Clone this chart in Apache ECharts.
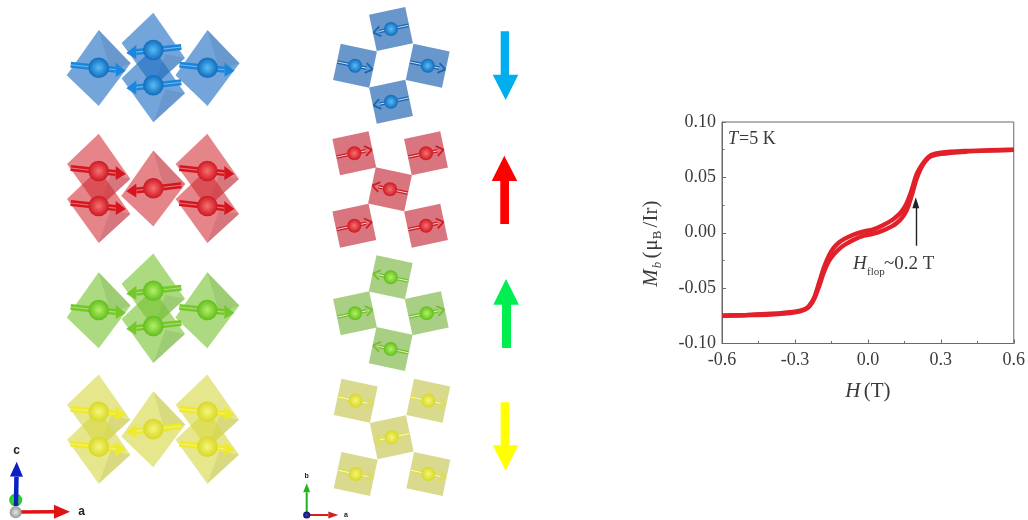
<!DOCTYPE html>
<html><head><meta charset="utf-8">
<script src="https://cdn.jsdelivr.net/npm/echarts@6/dist/echarts.min.js"></script>
<style>html,body{margin:0;padding:0;background:#fff}#c{width:1028px;height:520px;filter:blur(0.45px)}</style>
</head><body><div id="c"></div>
<script>
// ---- M-H loop data (H in tesla, M in muB/Ir)
const fieldUp = [-0.6,-0.5,-0.4,-0.3,-0.26,-0.24,-0.22,-0.2,-0.18,-0.16,-0.14,-0.12,-0.1,-0.06,-0.02,0.02,0.06,0.1,0.12,0.14,0.16,0.18,0.2,0.22,0.24,0.26,0.3,0.4,0.5,0.6];
const momentUpper = [-0.0748,-0.0742,-0.0732,-0.0712,-0.069,-0.0655,-0.058,-0.0445,-0.031,-0.0205,-0.0135,-0.009,-0.006,-0.0018,0.001,0.0028,0.0065,0.0115,0.015,0.0195,0.027,0.0385,0.0525,0.0605,0.0665,0.0703,0.0723,0.0738,0.0745,0.075];
const momentLower = [-0.075,-0.0745,-0.0738,-0.0718,-0.0695,-0.0665,-0.0595,-0.048,-0.035,-0.0255,-0.0195,-0.015,-0.0115,-0.0065,-0.0028,-0.001,0.0018,0.006,0.009,0.0135,0.0205,0.0335,0.0485,0.059,0.0655,0.069,0.0712,0.0732,0.0742,0.0748];
const xTicks = {min:-0.6,max:0.6,step:0.3};
const yTicks = {min:-0.1,max:0.1,step:0.05};
const arrowH = [0.197,0.197];
const arrowM = [-0.0117,0.0271]; // flop-field arrow tail and tip

// ---- illustration palettes and layout
const palettes = {
  blue:  {oct:'rgba(30,110,195,0.62)', facet:'rgba(30,70,130,0.13)', sq:'#6a97cb', lo:'#0862b4', arrow:'#1a86dc', thin:'#1466b4', core:'#58bcf8'},
  red:   {oct:'rgba(210,40,50,0.57)',  facet:'rgba(110,20,30,0.12)', sq:'#d9757e', lo:'#c80f1a', arrow:'#d6151f', thin:'#cc1c24', core:'#f87070'},
  green: {oct:'rgba(120,195,50,0.62)', facet:'rgba(60,110,30,0.12)', sq:'#a9cf85', lo:'#58b814', arrow:'#74c82a', thin:'#74bf2c', core:'#b4f068'},
  yellow:{oct:'rgba(215,215,70,0.62)', facet:'rgba(120,120,30,0.12)', sq:'#d9da8e', lo:'#d4d41e', arrow:'#eeea2c', thin:'#dfde50', core:'#f6f67a'}
};
// [x, y, shape (A/B), spin (+1 right, -1 left)]
const octBlue  = [[98.7,67.7,'A',1],[153.3,50,'B',-1],[153.3,85.3,'B',-1],[207.5,67.7,'A',1]];
const octRed   = [[98.7,171,'B',1],[98.7,206,'B',1],[153.3,188.3,'A',-1],[207.3,171,'B',1],[207.3,206,'B',1]];
const octGreen = [[98.7,310,'A',1],[153.3,290.7,'B',-1],[153.3,326,'B',-1],[207.3,310,'A',1]];
const octYellow= [[98.7,411.7,'B',1],[98.7,446.7,'B',1],[153.3,429,'A',-1],[207.3,411.7,'B',1],[207.3,446.7,'B',1]];
// [x, y, rotation degrees, spin]
const sqBlue  = [[391,29,-12,-1],[355,65.7,12,1],[427.7,65.7,12,1],[391,101.7,-12,-1]];
const sqRed   = [[354.3,153.3,-12,1],[426,153.3,-12,1],[390,189.3,12,-1],[354.3,225.7,-12,1],[426,225.7,-12,1]];
const sqGreen = [[390.7,277.3,12,-1],[355,313.3,-12,1],[426.7,313.3,-12,1],[390.7,349,12,-1]];
const sqYellow= [[355.7,400.7,12,1],[428.3,400.7,12,1],[391.7,437.3,-12,-1],[355.7,474,12,1],[428.3,474,12,1]];

const shapes = {
  A:{v:[[0,-37.7],[32,-4.4],[0,38.3],[-32,7.6]], f:[[0,-37.7],[32,-4.4],[12,3]]},
  B:{v:[[0,-37.3],[31.7,8],[0,37],[-31.7,-7]],   f:[[0,37],[31.7,8],[12,4]]}
};
const els = [];
function poly(points, fill, z){ els.push({type:'polygon', z:z||1, shape:{points}, style:{fill}}); }
function line(a,b,stroke,w,z){ els.push({type:'line', z:z||1, shape:{x1:a[0],y1:a[1],x2:b[0],y2:b[1]}, style:{stroke,lineWidth:w}}); }
function ball(x,y,r,hi,lo,z){
  els.push({type:'circle', z:z||1, shape:{cx:x,cy:y,r},
    style:{fill:new echarts.graphic.RadialGradient(0.5,0.5,0.55,[{offset:0,color:hi},{offset:1,color:lo}])}});
}
function octLayer(list,p){
  list.forEach(o=>{
    const s=shapes[o[2]];
    poly(s.v.map(q=>[o[0]+q[0],o[1]+q[1]]),p.oct,2);
    poly(s.f.map(q=>[o[0]+q[0],o[1]+q[1]]),p.facet,2);
  });
  list.forEach(o=>{
    const d=o[3], x=o[0], y=o[1], t=3;
    const tail=[x-d*28,y-t], neck=[x+d*17,y+t*0.7], tip=[x+d*27,y+t];
    line(tail,neck,p.arrow,6,3);
    line(tail,neck,'rgba(255,255,255,0.4)',1.1,3);
    poly([[neck[0],neck[1]-7],tip,[neck[0],neck[1]+7]],p.arrow,3);
    ball(x,y,10.3,p.core,p.lo,4);
  });
}
function sqLayer(list,p){
  const h=18.5;
  list.forEach(o=>{
    const a=o[2]*Math.PI/180, c=Math.cos(a), s=Math.sin(a);
    const rot=(u,v)=>[o[0]+u*c-v*s,o[1]+u*s+v*c];
    poly([rot(-h,-h),rot(h,-h),rot(h,h),rot(-h,h)],p.sq,2);
    const d=o[3];
    const tail=rot(-d*18,0), neck=rot(d*12,0);
    line(tail,neck,p.thin,3.6,3);
    line(tail,neck,'rgba(255,255,255,0.8)',1,3);
    line(rot(d*11,-5),rot(d*18,0),p.thin,1.8,3);
    line(rot(d*11,5),rot(d*18,0),p.thin,1.8,3);
    ball(o[0],o[1],7,p.core,p.lo,4);
  });
}
octLayer(octBlue,palettes.blue); octLayer(octRed,palettes.red);
octLayer(octGreen,palettes.green); octLayer(octYellow,palettes.yellow);
sqLayer(sqBlue,palettes.blue); sqLayer(sqRed,palettes.red);
sqLayer(sqGreen,palettes.green); sqLayer(sqYellow,palettes.yellow);

// big stack arrows: [shaft x0, x1, shaft end y, head base y, head x0, x1, tip x, tip y, colour]
const bigArrows=[
 [500.7,509,31.3,74.7,492.7,518.3,505.7,100,'#00aeef'],
 [500.3,509,224,181,491.7,517.3,504.3,155.7,'#ff0000'],
 [502,511,348,304.7,493.3,519,506,279,'#00ee50'],
 [500.7,509,402.3,445.3,492.7,518.3,505.7,470.7,'#ffff00']
];
bigArrows.forEach(a=>{
  poly([[a[0],a[2]],[a[1],a[2]],[a[1],a[3]],[a[5],a[3]],[a[6],a[7]],[a[4],a[3]],[a[0],a[3]]],a[8],2);
});

// crystal axes
function axisArrow(x0,y0,x1,y1,col,w,hw,hl){
  const dx=x1-x0, dy=y1-y0, L=Math.hypot(dx,dy), ux=dx/L, uy=dy/L;
  const nx=x1-ux*hl, ny=y1-uy*hl;
  line([x0,y0],[nx,ny],col,w,5);
  poly([[nx-uy*hw,ny+ux*hw],[x1,y1],[nx+uy*hw,ny-ux*hw]],col,5);
}
ball(15.7,500,6.5,'#55e855','#17c217',5);
axisArrow(16,506,16.7,461.7,'#0b1fc4',4.5,6.5,15);
axisArrow(18,512,70,511.7,'#e01212',3.5,7,16);
ball(15.7,512.3,6,'#e6e6e6','#8f8f8f',6);
axisArrow(306.7,515,306.7,483.3,'#22b322',2,3.5,9);
axisArrow(306.7,515,338.3,515,'#d42020',2,3.5,10);
ball(306.7,515,3.6,'#2d3fa8','#0a0f6a',6);

const sans={fontFamily:'Liberation Sans',fontWeight:'bold',fill:'#222'};
function txt(x,y,text,size){
  els.push({type:'text',z:6,x,y,style:Object.assign({text,fontSize:size,align:'center',verticalAlign:'middle'},sans)});
}
txt(16.7,450.7,'c',12); txt(81.7,511.5,'a',12); txt(346,515,'a',7); txt(306.7,476,'b',7);

// plot annotations
const serif='Liberation Serif', ink='#3a3a3a';
function ptxt(x,y,t,st,fs){
  els.push({type:'text',z:20,x,y,style:{text:t,fontFamily:serif,fontStyle:st,fontSize:fs,fill:ink,verticalAlign:'middle'}});
}
ptxt(728,139,'T','italic',18); ptxt(739,139,'=5 K','normal',18);
ptxt(853,264,'H','italic',19); ptxt(867,272.5,'flop','normal',11); ptxt(884,264,'~0.2 T','normal',19);
const yPieces=[
 {t:'M',y:278,x:651,st:'italic',fs:21},{t:'b',y:265,x:658,st:'italic',fs:13},
 {t:'(',y:255,x:651,st:'normal',fs:21},{t:'\u03bc',y:245,x:651,st:'normal',fs:21},
 {t:'B',y:235,x:658,st:'normal',fs:13},{t:'/Ir)',y:214,x:651,st:'normal',fs:21}
];
yPieces.forEach(p=>els.push({type:'text',z:20,x:p.x,y:p.y,rotation:Math.PI/2,
  style:{text:p.t,fontFamily:serif,fontStyle:p.st,fontSize:p.fs,fill:ink,align:'center',verticalAlign:'middle'}}));

const chart=echarts.init(document.getElementById('c'),null,{renderer:'canvas'});
const fmt1=v=>Math.abs(v)<1e-9?'0.0':v.toFixed(1);
const fmt2=v=>Math.abs(v)<1e-9?'0.00':v.toFixed(2);
const axisCol='#6a6a6a';
const labelStyle={fontFamily:serif,fontSize:18,color:ink};
chart.setOption({
  animation:false,
  backgroundColor:'#fff',
  grid:{left:722,top:122,width:293,height:221.5,show:true,borderColor:axisCol,borderWidth:1,backgroundColor:'transparent'},
  xAxis:{type:'value',min:xTicks.min,max:xTicks.max,interval:xTicks.step,
    axisLine:{show:true,onZero:false,lineStyle:{color:axisCol}},
    axisTick:{show:true,inside:true,length:4,lineStyle:{color:axisCol}},
    minorTick:{show:true,splitNumber:2,length:2.5,lineStyle:{color:axisCol}},
    splitLine:{show:false},
    axisLabel:Object.assign({formatter:fmt1,margin:8,showMinLabel:true,showMaxLabel:true},labelStyle),
    name:'{i|H} {n|(T)}',nameLocation:'middle',nameGap:37,
    nameTextStyle:{rich:{i:{fontFamily:serif,fontStyle:'italic',fontSize:21,color:ink},n:{fontFamily:serif,fontSize:21,color:ink}}}},
  yAxis:{type:'value',min:yTicks.min,max:yTicks.max,interval:yTicks.step,
    axisLine:{show:true,onZero:false,lineStyle:{color:axisCol}},
    axisTick:{show:true,inside:true,length:4,lineStyle:{color:axisCol}},
    minorTick:{show:true,splitNumber:2,length:2.5,lineStyle:{color:axisCol}},
    splitLine:{show:false},
    axisLabel:Object.assign({formatter:fmt2,margin:6,showMinLabel:true,showMaxLabel:true},labelStyle)},
  series:[
    {name:'upper',type:'line',data:fieldUp.map((h,i)=>[h,momentUpper[i]]),smooth:0.3,showSymbol:false,lineStyle:{color:'#e1202a',width:4.4},z:5},
    {name:'lower',type:'line',data:fieldUp.map((h,i)=>[h,momentLower[i]]),smooth:0.3,showSymbol:false,lineStyle:{color:'#e1202a',width:4.4},z:5},
    {name:'flop',type:'line',data:[],silent:true,z:6,
      markLine:{silent:true,animation:false,symbol:['none','triangle'],symbolSize:[7,11],label:{show:false},
        lineStyle:{color:'#222',width:1.4,type:'solid'},
        data:[[{coord:[arrowH[0],arrowM[0]]},{coord:[arrowH[1],arrowM[1]]}]]}}
  ],
  graphic:els
});
</script></body></html>
